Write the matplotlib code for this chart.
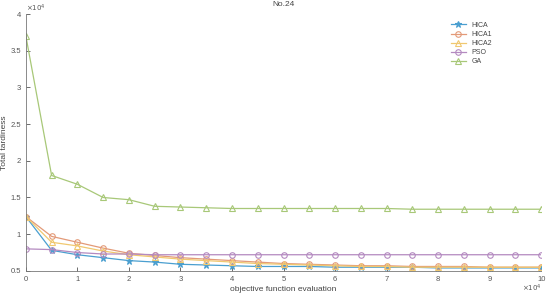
import matplotlib.pyplot as plt
import numpy as np

# evaluations (x 10^4) and total tardiness (x 10^4)
evals = np.arange(0, 10.5, 0.5)
hica = [1.24, 0.78, 0.72, 0.68, 0.64, 0.62, 0.59, 0.58, 0.57, 0.56, 0.56,
        0.56, 0.55, 0.55, 0.55, 0.55, 0.54, 0.54, 0.54, 0.54, 0.54]
hica1 = [1.24, 0.97, 0.89, 0.81, 0.74, 0.71, 0.68, 0.66, 0.64, 0.62, 0.60,
         0.59, 0.58, 0.57, 0.57, 0.56, 0.56, 0.56, 0.55, 0.55, 0.55]
hica2 = [1.24, 0.89, 0.84, 0.77, 0.72, 0.69, 0.66, 0.64, 0.62, 0.60, 0.59,
         0.58, 0.57, 0.56, 0.56, 0.55, 0.55, 0.55, 0.55, 0.55, 0.55]
pso = [0.80, 0.79, 0.75, 0.73, 0.73, 0.72, 0.72, 0.72, 0.72, 0.72, 0.72,
       0.72, 0.72, 0.72, 0.72, 0.72, 0.72, 0.72, 0.72, 0.72, 0.72]
ga = [3.70, 1.80, 1.68, 1.50, 1.47, 1.38, 1.37, 1.36, 1.35, 1.35, 1.35,
      1.35, 1.35, 1.35, 1.35, 1.34, 1.34, 1.34, 1.34, 1.34, 1.34]

series = [
    ('HICA', hica, '#4a9fd0', '*'),
    ('HICA1', hica1, '#e39a78', 'o'),
    ('HICA2', hica2, '#f0c870', '^'),
    ('PSO', pso, '#b48ac0', 'o'),
    ('GA', ga, '#a8c878', '^'),
]

plt.rcParams['font.family'] = 'Liberation Sans'
fig = plt.figure(figsize=(5.5, 2.98), dpi=100)
ax = fig.add_axes([0.047, 0.091, 0.937, 0.862])

for name, vals, col, mk in series:
    ax.plot(evals, vals, color=col, lw=0.9, marker=mk, ms=4 if mk != '*' else 4.5,
            mfc='none' if mk != '*' else col, mec=col, mew=0.8, label=name)

ax.set_xlim(0, 10)
ax.set_ylim(0.5, 4)
ax.set_xticks(range(0, 11))
ax.set_yticks(np.arange(0.5, 4.01, 0.5))
ax.set_yticklabels(['0.5', '1', '1.5', '2', '2.5', '3', '3.5', '4'])
ax.tick_params(direction='in', labelsize=5.5, colors='#555555', length=3, width=0.6)
for s in ['top', 'right']:
    ax.spines[s].set_visible(False)
for s in ['left', 'bottom']:
    ax.spines[s].set_color('#777777')
    ax.spines[s].set_linewidth(0.6)

ax.set_title('No.24', fontsize=6, color='#444444', pad=6)
ax.set_xlabel('objective function evaluation', fontsize=6, color='#444444', labelpad=2)
ax.set_ylabel('Total tardiness', fontsize=6, color='#444444', labelpad=2)
ax.text(0.0, 1.0, r'$\times10^4$', transform=ax.transAxes, fontsize=5, color='#555555',
        va='bottom', ha='left')
ax.text(1.0, -0.045, r'$\times10^4$', transform=ax.transAxes, fontsize=5, color='#555555',
        va='top', ha='right')

leg = ax.legend(loc='upper right', bbox_to_anchor=(0.91, 0.98), frameon=False,
                fontsize=5, handlelength=2.2, labelspacing=0.3, borderaxespad=0)
for t in leg.get_texts():
    t.set_color('#444444')

plt.savefig('out.png', dpi=100)
plt.close()
